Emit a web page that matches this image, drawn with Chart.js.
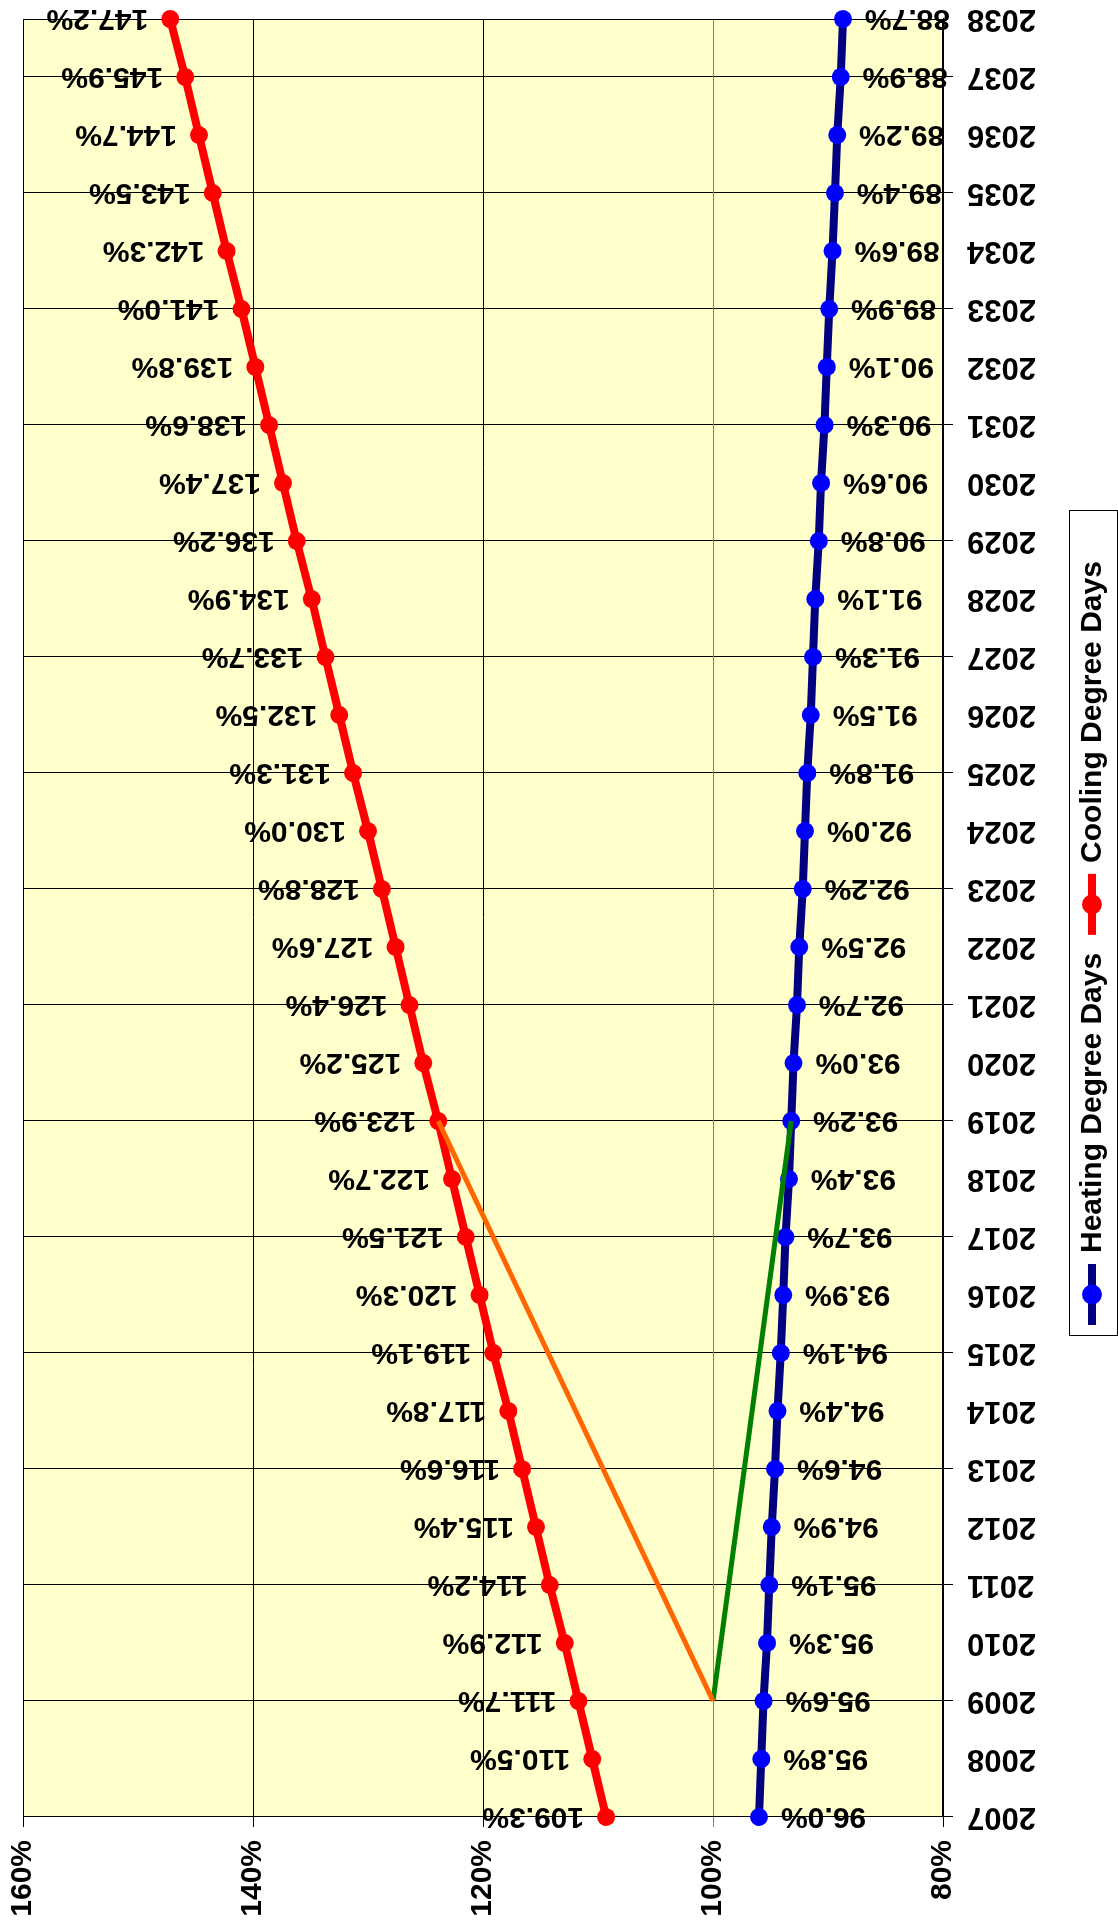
<!DOCTYPE html>
<html>
<head>
<meta charset="utf-8">
<title>Degree Days</title>
<script src="https://cdn.jsdelivr.net/npm/chart.js@4.4.1/dist/chart.umd.min.js"></script>
<style>
  html, body { margin: 0; padding: 0; background: #fff; overflow: hidden; }
  #wrap {
    position: absolute; left: 0; top: 0;
    width: 1929px; height: 1118px;
    transform-origin: 0 0;
    transform: translate(0, 1929px) rotate(-90deg);
  }
</style>
</head>
<body>
<div id="wrap"><canvas id="degreeChart" width="1929" height="1118"></canvas></div>
<script>
// years on the category axis
const years = ['2007', '2008', '2009', '2010', '2011', '2012', '2013', '2014',
  '2015', '2016', '2017', '2018', '2019', '2020', '2021', '2022', '2023', '2024',
  '2025', '2026', '2027', '2028', '2029', '2030', '2031', '2032', '2033', '2034',
  '2035', '2036', '2037', '2038'];

// percent of base
const heating = [96.0, 95.8, 95.6, 95.3, 95.1, 94.9, 94.6, 94.4, 94.1, 93.9,
  93.7, 93.4, 93.2, 93.0, 92.7, 92.5, 92.2, 92.0, 91.8, 91.5, 91.3, 91.1,
  90.8, 90.6, 90.3, 90.1, 89.9, 89.6, 89.4, 89.2, 88.9, 88.7];
const cooling = [109.3, 110.5, 111.7, 112.9, 114.2, 115.4, 116.6, 117.8, 119.1,
  120.3, 121.5, 122.7, 123.9, 125.2, 126.4, 127.6, 128.8, 130.0, 131.3, 132.5,
  133.7, 134.9, 136.2, 137.4, 138.6, 139.8, 141.0, 142.3, 143.5, 144.7, 145.9,
  147.2];

// the two straight lines drawn from 2009 to 2019
const trendYears = ['2009', '2019'];
const coolingTrend = [100, 123.9];
const heatingTrend = [100, 93.2];

const FONT = '"Liberation Sans", Arial, sans-serif';

const plotBg = {
  id: 'plotBg',
  beforeDraw(chart) {
    const a = chart.chartArea, ctx = chart.ctx;
    ctx.save();
    ctx.fillStyle = '#FFFFCC';
    ctx.fillRect(a.left, a.top, a.right - a.left, a.bottom - a.top);
    ctx.restore();
  },
  beforeDatasetsDraw(chart) {
    const a = chart.chartArea, ctx = chart.ctx;
    ctx.save();
    ctx.strokeStyle = '#000';
    ctx.lineWidth = 1;
    ctx.strokeRect(a.left + 0.5, a.top + 0.5, a.right - a.left - 1, a.bottom - a.top - 1);
    ctx.restore();
  }
};

// value labels, written sideways like the axis years
const valueLabels = {
  id: 'valueLabels',
  afterDatasetsDraw(chart) {
    const ctx = chart.ctx;
    ctx.save();
    ctx.font = 'bold 30px ' + FONT;
    ctx.fillStyle = '#000';
    ctx.textBaseline = 'middle';
    chart.data.datasets.forEach((ds, i) => {
      if (!ds.labelSide) return;
      const meta = chart.getDatasetMeta(i);
      meta.data.forEach((pt, j) => {
        const txt = ds.data[j].toFixed(1) + '%';
        ctx.save();
        ctx.translate(pt.x, pt.y);
        ctx.rotate(-Math.PI / 2);
        if (ds.labelSide === 'up') {
          ctx.textAlign = 'left';
          ctx.fillText(txt, 22, 1);
        } else {
          ctx.textAlign = 'right';
          ctx.fillText(txt, -22, 1);
        }
        ctx.restore();
      });
    });
    ctx.restore();
  }
};

// boxed legend under the plot
const boxLegend = {
  id: 'boxLegend',
  afterDraw(chart) {
    const ctx = chart.ctx;
    const items = chart.data.datasets.filter(d => d.inLegend);
    ctx.save();
    ctx.strokeStyle = '#000';
    ctx.lineWidth = 1;
    ctx.strokeRect(593.5, 1069.5, 825, 48);
    ctx.font = 'bold 30px ' + FONT;
    ctx.textBaseline = 'middle';
    ctx.textAlign = 'left';
    let x = 604;
    const y = 1092;
    items.forEach(d => {
      ctx.strokeStyle = d.borderColor;
      ctx.lineWidth = 8;
      ctx.beginPath();
      ctx.moveTo(x, y);
      ctx.lineTo(x + 61, y);
      ctx.stroke();
      ctx.fillStyle = d.pointBackgroundColor;
      ctx.beginPath();
      ctx.arc(x + 30.5, y, 10, 0, Math.PI * 2);
      ctx.fill();
      ctx.fillStyle = '#000';
      ctx.fillText(d.label, x + 72, y + 1);
      x += 72 + ctx.measureText(d.label).width + 18;
    });
    ctx.restore();
  }
};

const data = {
  labels: years,
  datasets: [
    {
      label: 'Heating Degree Days',
      data: heating,
      borderColor: '#000080',
      borderWidth: 8,
      pointBackgroundColor: '#0000FF',
      pointBorderColor: '#0000FF',
      pointRadius: 9,
      pointBorderWidth: 0,
      tension: 0,
      order: 2,
      labelSide: 'down',
      inLegend: true
    },
    {
      label: 'Cooling Degree Days',
      data: cooling,
      borderColor: '#FF0000',
      borderWidth: 8,
      pointBackgroundColor: '#FF0000',
      pointBorderColor: '#FF0000',
      pointRadius: 9,
      pointBorderWidth: 0,
      tension: 0,
      order: 2,
      labelSide: 'up',
      inLegend: true
    },
    {
      label: 'cooling trend',
      data: trendYears.map((y, i) => ({ x: y, y: coolingTrend[i] })),
      borderColor: '#FF6600',
      borderWidth: 5,
      pointRadius: 0,
      order: 1
    },
    {
      label: 'heating trend',
      data: trendYears.map((y, i) => ({ x: y, y: heatingTrend[i] })),
      borderColor: '#008000',
      borderWidth: 5,
      pointRadius: 0,
      order: 1
    }
  ]
};

const config = {
  type: 'line',
  data: data,
  plugins: [plotBg, valueLabels, boxLegend],
  options: {
    responsive: false,
    animation: false,
    devicePixelRatio: 1,
    layout: { padding: { top: 23, right: 19, left: 0, bottom: 0 } },
    plugins: {
      legend: { display: false },
      tooltip: { enabled: false }
    },
    scales: {
      x: {
        type: 'category',
        offset: false,
        grid: {
          color: c => (c.index % 2 === 0 ? '#000' : 'rgba(0,0,0,0)'),
          tickColor: c => (c.index % 2 === 0 ? '#000' : 'rgba(0,0,0,0)'),
          tickLength: 10,
          lineWidth: 1
        },
        border: { display: true, color: '#000', width: 1 },
        ticks: {
          autoSkip: false,
          minRotation: 90,
          maxRotation: 90,
          padding: 14,
          color: '#000',
          font: { family: FONT, size: 31, weight: 'bold' }
        },
        afterFit(scale) {
          scale.height = 175;
          scale.paddingLeft = 0;
          scale.paddingRight = 0;
        }
      },
      y: {
        min: 80,
        max: 160,
        grid: {
          color: c => (c.tick && c.tick.value === 100 ? '#808080' : '#000'),
          tickColor: c => (c.tick && c.tick.value === 100 ? '#808080' : '#000'),
          tickLength: 10,
          lineWidth: 1
        },
        border: { display: true, color: '#000', width: 1 },
        ticks: {
          stepSize: 20,
          padding: 13,
          color: '#000',
          font: { family: FONT, size: 30, weight: 'bold' },
          callback: v => v + '%'
        },
        afterFit(scale) {
          scale.width = 112;
          scale.paddingTop = 0;
          scale.paddingBottom = 0;
        }
      }
    }
  }
};

const degreeChart = new Chart(document.getElementById('degreeChart'), config);
</script>
</body>
</html>
